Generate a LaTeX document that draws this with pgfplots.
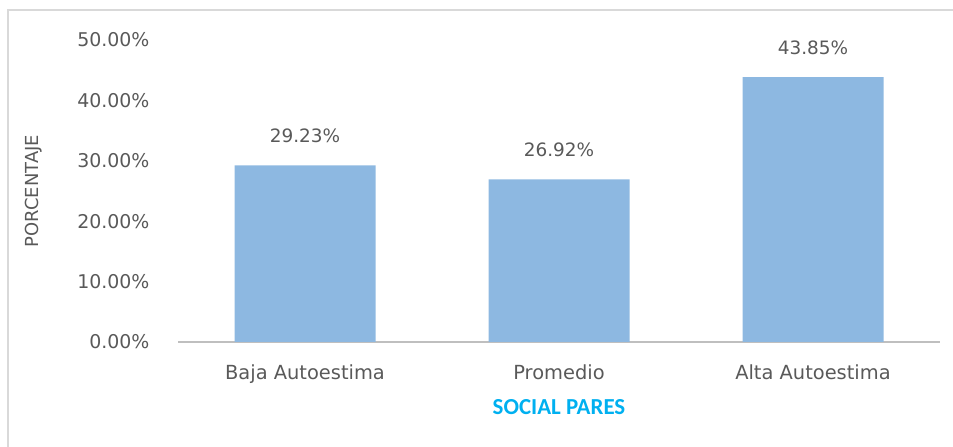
\documentclass[border=0pt]{standalone}
\usepackage{fontspec}
\setmainfont{DejaVu Sans}
\newfontfamily\carlito{Carlito}
\usepackage{pgfplots}
\pgfplotsset{compat=1.18}
\definecolor{barra}{HTML}{8DB8E1}
\definecolor{texto}{HTML}{595959}
\definecolor{ejex}{HTML}{BFBFBF}
\definecolor{titulo}{HTML}{00B0F0}
\definecolor{marco}{HTML}{D9D9D9}

\begin{document}
\begin{tikzpicture}[x=1bp,y=1bp]
  \begin{axis}[
      at={(178bp,105bp)}, anchor=south west,
      scale only axis,
      width=762bp, height=302bp,
      xmin=-0.5, xmax=2.5,
      ymin=0, ymax=50,
      axis y line=none,
      axis x line*=bottom,
      axis line style={ejex, line width=2.2bp},
      x axis line style={-},
      xtick={0,1,2},
      xticklabels={Baja Autoestima, Promedio, Alta Autoestima},
      ytick=\empty,
      major tick length=0pt,
      xticklabel style={font=\fontsize{19.5}{22}\selectfont, text=texto, yshift=-19bp},
      xlabel={\carlito\bfseries SOCIAL PARES},
      xlabel style={font=\fontsize{23}{26}\selectfont, text=titulo,
        at={(axis description cs:0.5,-0.215)}, anchor=center},
      ybar, bar width=141bp,
      /pgf/number format/assume math mode=true,
      nodes near coords={\pgfmathprintnumber[fixed,precision=2,fixed zerofill]{\pgfplotspointmeta}\%},
      every node near coord/.append style={font=\fontsize{18.5}{22}\selectfont, text=texto, yshift=19bp},
      clip=false,
    ]
    \addplot[fill=barra, draw=none] coordinates {(0,29.23) (1,26.92) (2,43.85)};
    % etiquetas del eje y
    \foreach \v in {0,10,20,30,40,50} {
      \edef\temp{\noexpand\node[anchor=east, text=texto, font=\noexpand\fontsize{19}{22}\noexpand\selectfont]
        at (axis cs:-0.5,\v) [xshift=-25bp] {\v.00\noexpand\%};}
      \temp
    }
    \node[rotate=90, anchor=center, text=texto, font=\fontsize{18}{22}\selectfont]
      at (axis description cs:-0.19,0.5) {PORCENTAJE};
  \end{axis}
  \draw[marco, line width=1.5bp] (8,0) -- (8,437) -- (953,437);
  \pgfresetboundingbox
  \useasboundingbox (0,0) rectangle (953,447);
\end{tikzpicture}
\end{document}
